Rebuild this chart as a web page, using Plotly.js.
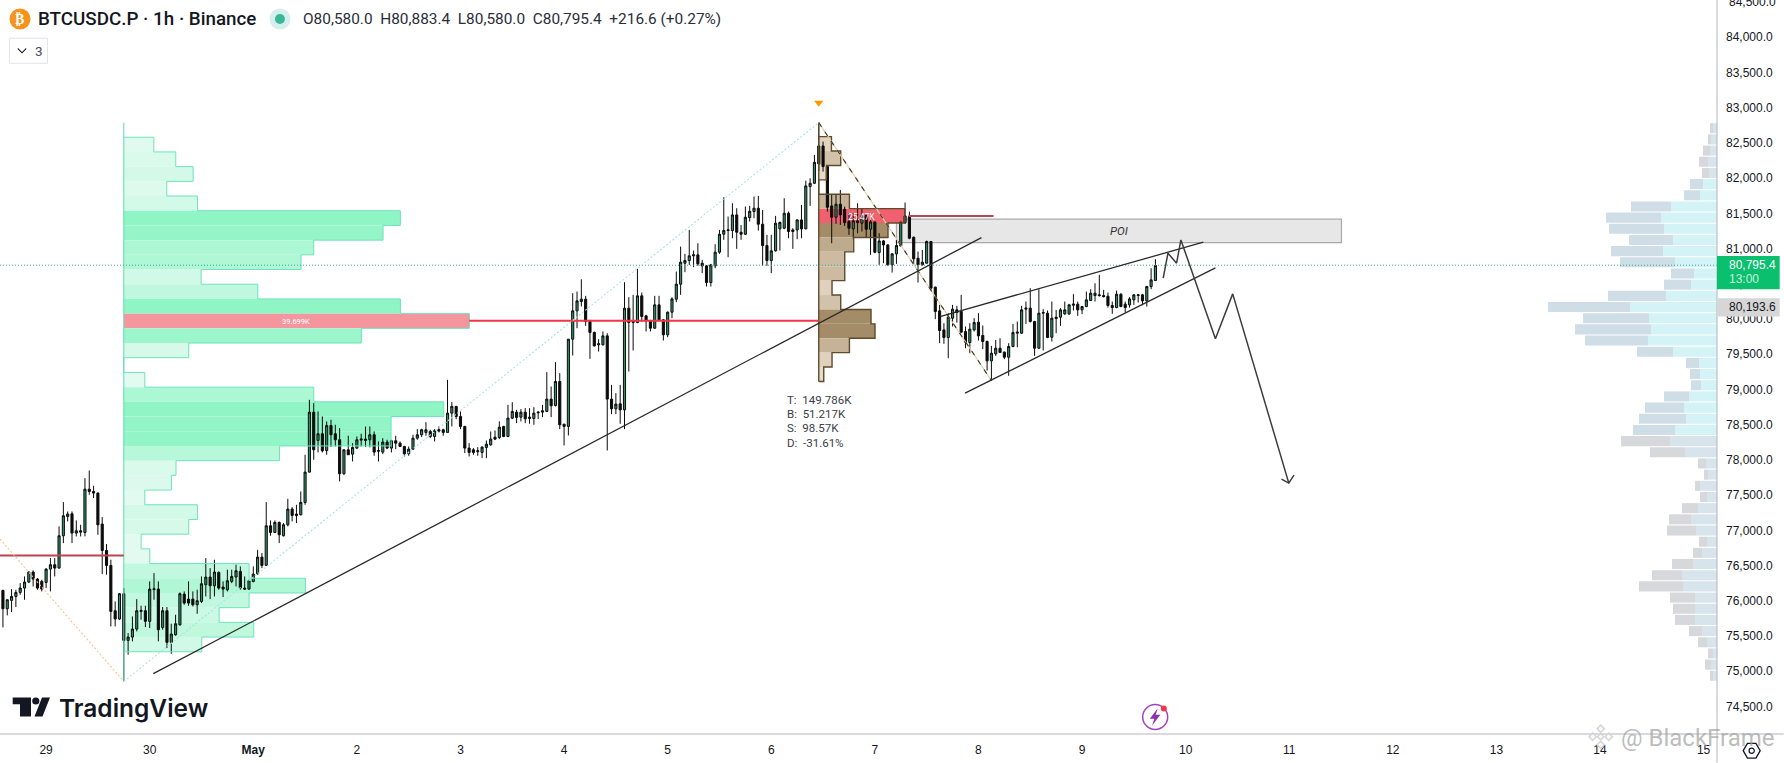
<!DOCTYPE html>
<html><head><meta charset="utf-8">
<script src="https://cdn.plot.ly/plotly-3.0.1.min.js"></script>
<style>html,body{margin:0;padding:0;background:#fff;overflow:hidden}</style></head>
<body><div id="chart" style="width:1784px;height:763px"></div>
<script>
// Hourly candles [open, high, low, close]; hour index 0 = 1 May 00:00
const firstHour = -58;
const candlesApril = [
[76147,76157,75622,75887],[75887,76015,75793,76015],[76006,76166,75840,76062],[76062,76157,75911,76119],[76119,76251,76086,76181],[76181,76346,76015,76266],[76266,76417,76251,76408],[76408,76431,76204,76308],[76308,76322,76157,76181],[76275,76299,76133,76166],
[76261,76464,76181,76450],[76450,76606,76133,76512],[76512,76606,76346,76464],[76464,77056,76464,76923],[76923,77401,76819,77207],[77197,77268,77127,77231],[77235,77268,76819,76961],[76961,77141,76914,76994],[76994,77079,76914,76975],[76970,77741,76914,77585],
[77585,77850,77505,77552],[77552,77633,77458,77529],[77529,77538,76937,77079],[77089,77188,76379,76715],[76715,76805,76370,76502],[76502,76583,75637,75849],[75859,75991,75637,75741],[75741,76110,75731,76100],[76100,76181,74856,75438],[75438,75542,75235,75485],
[75485,75778,75424,75599],[75599,76024,75566,75859],[75849,75930,75731,75864],[75859,75930,75627,75708],[75708,76275,75613,76166],[76171,76393,76015,76160],[76166,76275,75424,75589],[75622,75911,75589,75859],[75859,75911,75329,75410],[75410,75674,75249,75528],
[75518,75802,75504,75674],[75660,76119,75646,76100],[76095,76133,75944,75968],[76024,76275,75930,75968],[76024,76133,75920,75944],[75944,76157,75816,76001],[75991,76346,75968,76242],[76228,76606,76062,76337],[76337,76464,76024,76214],[76214,76583,76062,76408],
[76403,76417,76157,76181],[76195,76275,76053,76166],[76157,76441,76133,76285],[76275,76441,76251,76346],[76337,76512,76204,76427],[76417,76488,76157,76181],[76181,76346,76157,76166],[76166,76299,76157,76285]];
const candlesMayEarly = [
[76275,76488,76261,76379],[76384,76724,76370,76620],[76620,76677,76464,76502],[76502,77401,76502,77065],[77065,77141,76923,76970],[76970,77141,76961,77112],[77112,77127,76819,76937],[76923,77103,76914,77079],[77079,77448,77056,77302],[77302,77330,77127,77212],
[77231,77363,77103,77212],[77221,77552,77212,77396],[77396,78073,77363,77827],[77827,78853,77820,78678],[78678,78806,78002,78144],[78276,78688,78106,78371],[78371,78617,78106,78130],[78134,78546,78073,78489],[78489,78570,78182,78357],[78371,78499,78191,78286],
[78286,78451,77695,77803],[77803,78144,77789,78144],[78144,78343,78073,78073],[78082,78238,77978,78177],[78168,78333,78153,78286],[78281,78371,78191,78295],[78276,78475,78182,78295],[78286,78475,78177,78357],[78357,78404,78059,78111],[78134,78262,77978,78125],
[78111,78309,78082,78253],[78253,78286,78153,78168],[78168,78286,78106,78272],[78272,78343,78153,78238],[78238,78262,78182,78191],[78191,78201,78049,78087],[78087,78191,78059,78153],[78153,78357,78144,78309],[78309,78437,78286,78357],[78357,78442,78324,78428],
[78390,78536,78343,78428],[78404,78428,78309,78333],[78333,78437,78262,78414],[78409,78475,78390,78428],[78428,78442,78343,78390],[78390,79137,78390,78664],[78664,78820,78475,78759],[78759,78768,78579,78617],[78617,78688,78437,78475],[78475,78484,78097,78168],
[78168,78238,78049,78106],[78144,78168,78073,78106],[78116,78182,78059,78130]];
const candlesMayMiddle = [
[78106,78191,78025,78182],[78177,78276,78025,78224],[78215,78404,78200,78295],[78323,78418,78286,78295],[78319,78546,78295,78465],[78475,78484,78323,78333],[78333,78782,78323,78593],[78593,78820,78579,78688],[78678,78711,78522,78603],[78607,78721,78546,78678],
[78678,78735,78522,78584],[78588,78735,78513,78607],[78588,78749,78499,78664],[78669,78688,78579,78678],[78678,78782,78607,78697],[78688,79246,78678,78863],[78863,79042,78607,78768],[78773,79388,78759,79113],[79113,79232,78437,78498],[78508,78508,78205,78475],
[78475,79714,78347,79714],[79714,80367,79482,80116],[80116,80390,79870,80258],[80249,80565,80178,80282],[80282,80329,79903,79965],[79965,79988,79435,79809],[79809,79823,79610,79619],[79634,79714,79539,79648],[79634,79823,79624,79761],[79761,79799,78134,78863],
[78863,79066,78650,78725],[78725,78948,78650,78792],[78796,79066,78513,78711],[78711,80523,78437,80154],[80154,80310,79255,79951],[79951,80343,79553,79965],[79951,80712,79941,80329],[80329,80376,79965,80036],[80045,80059,79823,79974],[79979,79988,79823,79870],
[79870,80329,79861,80201],[80201,80329,79979,79988],[79988,79998,79695,79776],[79776,80107,79742,80097],[80097,80310,80012,80286],[80282,80674,80239,80495],[80495,81029,80343,80807],[80792,80925,80665,80830],[80830,81265,80769,80897],[80897,80972,80736,80911],
[80911,81076,80755,80783],[80792,80840,80651,80755],[80755,80764,80461,80518],[80518,80783,80461,80769],[80755,81062,80722,80949],[80949,81265,80925,81204],[81204,81729,81124,81256],[81256,81455,80878,81265],[81256,81644,81147,81478],[81478,81573,80996,81232],
[81232,81336,81124,81204],[81204,81597,81195,81445],[81440,81606,81384,81530],[81526,81739,81431,81573],[81573,81748,81256,81346],[81346,81549,80755,81043],[81043,81195,80755,80830],[80830,81195,80651,80968],[80968,81464,80958,81360],[81280,81384,80972,81370]];
const candlesMayLate = [
[81289,81715,81275,81502],[81502,81526,81147,81242],[81242,81289,80996,81265],[81265,81417,81133,81407],[81407,81620,81147,81280],[81280,81965,81275,81890],[81880,81998,81606,81927],[81927,82330,81918,82225],[82202,82788,82100,82457],[82457,82519,82093,82164],
[82164,82173,81525,81587],[81606,81762,81076,81445],[81445,81762,81350,81630],[81630,81833,81336,81478],[81559,81596,81322,81369],[81384,81502,81194,81289],[81280,81502,81133,81393],[81369,81644,81218,81393],[81360,81573,81242,81469],[81469,81478,81161,81275],
[81275,81478,80911,81379],[81379,81379,80934,80948],[80944,81218,80769,81109],[81109,81123,80792,81052],[81052,81062,80759,80769],[80769,80934,80660,80925],[80925,81123,80783,81043],[81038,81384,81029,81374],[81369,81653,81350,81464],[81454,81525,81133,81147],
[81161,81171,80769,80854],[80863,80958,80518,80769],[80769,80981,80759,80806],[80792,81114,80792,81100],[81100,81109,80414,80438],[80452,80461,79998,80106],[80116,80201,79657,79837],[79846,79941,79648,79738],[79738,80083,79444,80026],[80012,80201,79894,80140],
[80130,80187,79950,80092],[80106,80343,79799,79813],[79823,79894,79586,79671],[79667,79941,79515,79856],[79846,80012,79823,79950],[79955,80083,79695,79761],[79766,79908,79572,79681],[79681,79695,79269,79406],[79406,79619,79127,79515],[79506,79704,79477,79586],
[79586,79728,79525,79525],[79530,79539,79430,79458],[79458,79657,79194,79610],[79610,79931,79600,79808],[79799,79965,79600,79813],[79799,80187,79790,80130],[80140,80248,79931,80154],[80154,80438,79950,79965],[79965,79974,79477,79586],[79586,80423,79577,80083],
[80083,80140,79553,80092],[80083,80121,79728,79738],[79742,80248,79681,80012],[80007,80130,79799,80026],[80026,80154,79903,80130],[80073,80248,80059,80130],[80073,80215,80059,80201],[80196,80352,80121,80211],[80211,80248,80045,80130],[80130,80187,80069,80177],
[80177,80390,80168,80272],[80263,80423,80258,80367],[80333,80508,80248,80367],[80343,80627,80319,80333],[80333,80414,80305,80319],[80324,80376,80163,80192],[80192,80248,80073,80163],[80163,80404,80154,80352],[80352,80367,80168,80177],[80211,80248,80092,80163],
[80201,80310,80163,80286],[80272,80357,80201,80343],[80333,80357,80234,80343],[80343,80357,80196,80258],[80258,80471,80177,80461],[80461,80721,80423,80556],[80546,80849,80541,80759]];

// Anchored volume profile 1 (green), thousands per bin, top to bottom
const vp1Volumes = [3.45,5.97,7.96,4.94,8.46,31.77,29.78,21.82,20.36,8.88,15.39,31.77,39.699,27.29,7.46,0,2.41,21.82,36.75,30.70,30.70,17.88,6.0,5.47,2.41,8.46,7.46,1.99,2.99,14.39,20.86,14.39,10.95,14.93,8.96];
const vp1Top = 82581, vp1Step = 208.7, vp1Start = -30, vp1HoursPerK = 2.017, vp1Poc = 12;
const vp1High = 82788, vp1Low = 74856;
// Anchored volume profile 2 (brown)
const vp2Volumes = [3.76,6.51,2.28,0,9.09,25.47,20.52,10.36,7.7,7.7,3.94,6.51,15.49,16.67,9.09,3.94,1.48];
const vp2Top = 82589, vp2Step = 204.4, vp2Start = 131, vp2HoursPerK = 0.782, vp2Poc = 5;
// Visible range profile on the right edge (buy / sell units per bin, top to bottom)
const vrBuy  = [4,6,7,9,8,14,17,46,56,53,44,54,42,23,26,51,87,68,66,69,44,18,17,16,28,33,31,42,47,32,11,9,17,10,19,26,21,10,15,24,35,34,22,22,22,15,10,4,6,4];
const vrSell = [3,3,7,9,7,13,16,40,55,55,44,52,55,23,27,58,82,66,76,63,36,13,10,10,25,39,47,42,49,35,8,4,5,7,16,22,29,8,9,21,30,44,25,22,20,13,9,5,6,3];
const vrTop = 82788, vrStep = 158.64, vrRight = 339.1, vrHoursPerUnit = 0.2316, vrValueFrom = 5, vrValueTo = 27;

// Drawings, as [hour, price]
const priceLine = 80764;
const oldPocLevel = 76644, oldPocEnd = -30;
const poc1Level = 79974, poc1From = 50, poc1To = 131;
const poc2Level = 81464, poc2From = 151.8, poc2To = 171.5;
const trendLong = [[-23.16,74965],[168.7,81156]];
const wedgeUpper = [[159.1,80035],[220.1,81091]];
const wedgeLower = [[164.9,78948],[222.9,80726]];
const projection = [[210.8,80580],[211.9,80935],[213.9,80793],[214.9,81123],[222.9,79719],[226.9,80357],[239.9,77671]];
const arrowHead = [[238.2,77728],[239.9,77671],[241.1,77785]];
const zigOrange = [[-58.68,76876],[-30,74856]];
const zigTeal = [[-30,74856],[131,82788]];
const zigTan = [[131,82788],[171,79127]];
const poi = {x0:149, x1:252.1, y0:81085, y1:81417};
const peakMark = [131, 83072];

const dayTicks = [-48,-24,0,24,48,72,96,120,144,168,192,216,240,264,288,312,336];
const dayLabels = ['29','30','<b>May</b>','2','3','4','5','6','7','8','9','10','11','12','13','14','15'];
const headerTitle = 'BTCUSDC.P · 1h · Binance';
const headerOhlc = 'O80,580.0  H80,883.4  L80,580.0  C80,795.4  +216.6 (+0.27%)';
const stats = ['T:  149.786K','B:  51.217K','S:  98.57K','D:  -31.61%'];

const W = 1717.3, H = 734.3;
const fx = x => x / W, fy = y => 1 - y / H;
const candles = candlesApril.concat(candlesMayEarly, candlesMayMiddle, candlesMayLate);
const hours = candles.map((_, i) => firstHour + i);

function hex(a){return [parseInt(a.slice(1,3),16),parseInt(a.slice(3,5),16),parseInt(a.slice(5,7),16)];}
function lerp(a,b,t){t=Math.max(0,Math.min(1,t));const A=hex(a),B=hex(b);return 'rgb('+A.map((v,i)=>Math.round(v+(B[i]-v)*t)).join(',')+')';}

function profile(vols, top, step, start, perK, pocIdx, lowC, highC, tLo, tHi, pocC){
  const max = Math.max(...vols);
  return {type:'bar', orientation:'h', base:vols.map(()=>start), x:vols.map(v=>v*perK),
    y:vols.map((_,i)=>top-step*(i+.5)), width:step,
    marker:{color:vols.map((v,i)=>i===pocIdx?pocC:lerp(lowC,highC,(v/max-tLo)/(tHi-tLo))),line:{width:0}},
    hoverinfo:'skip', showlegend:false};
}
function outline(vols, top, step, start, perK, color, w){
  const xs=[start], ys=[top];
  vols.forEach((v,i)=>{xs.push(start+v*perK,start+v*perK);ys.push(top-step*i,top-step*(i+1));});
  xs.push(start); ys.push(top-step*vols.length);
  return {type:'scatter',mode:'lines',x:xs,y:ys,line:{color:color,width:w},hoverinfo:'skip',showlegend:false};
}
function line(pts,color,width,dash){
  return {type:'scatter',mode:'lines',x:pts.map(p=>p[0]),y:pts.map(p=>p[1]),
    line:{color:color,width:width,dash:dash||'solid'},hoverinfo:'skip',showlegend:false};
}
function vrBars(vals, right, colorFn){
  return {type:'bar',orientation:'h',base:right,x:vals.map(v=>v*vrHoursPerUnit),
    y:vals.map((_,i)=>vrTop-vrStep*(i+.5)),width:vrStep*0.9,
    marker:{color:vals.map((_,i)=>colorFn(i)),line:{width:0}},hoverinfo:'skip',showlegend:false};
}
const inVA = i => i>=vrValueFrom && i<=vrValueTo;
const vrBuyBase = vrBuy.map(v=>vrRight-v*vrHoursPerUnit);
const vrSellBase = vrBuy.map((v,i)=>vrRight-(v+vrSell[i])*vrHoursPerUnit);

const traces = [
  vrBars(vrSell, vrSellBase, i=>inVA(i)?'#cfdde6':'#d6d8db'),
  vrBars(vrBuy, vrBuyBase, i=>inVA(i)?'#d3f3f6':'#d7e4ec'),
  profile(vp1Volumes,vp1Top,vp1Step,vp1Start,vp1HoursPerK,vp1Poc,'#e2faf0','#8ff5c5',.08,.8,'#f5969e'),
  profile(vp2Volumes,vp2Top,vp2Step,vp2Start,vp2HoursPerK,vp2Poc,'#e6dac8','#a58c68',.1,.6,'#f1606e'),
  {type:'candlestick',x:hours,open:candles.map(c=>c[0]),high:candles.map(c=>c[1]),low:candles.map(c=>c[2]),close:candles.map(c=>c[3]),
   increasing:{line:{color:'#0b0b0b',width:1},fillcolor:'#2f9368'},
   decreasing:{line:{color:'#0b0b0b',width:1},fillcolor:'#0b0b0b'},
   whiskerwidth:0,hoverinfo:'skip',showlegend:false},
  outline(vp1Volumes,vp1Top,vp1Step,vp1Start,vp1HoursPerK,'#6ce4ba',1),
  line([[vp1Start,vp1High],[vp1Start,vp1Low]],'#5fdcb0',1),
  outline(vp2Volumes,vp2Top,vp2Step,vp2Start,vp2HoursPerK,'#5f4a2c',1.4),
  line([[vp2Start,vp1High],[vp2Start,vp2Top-vp2Step*vp2Volumes.length]],'#5f4a2c',1.4),
  line([[-58.68,priceLine],[339.1,priceLine]],'#33ad96',1,'1px,2px'),
  line([[-58.68,oldPocLevel],[oldPocEnd,oldPocLevel]],'#b9454f',2),
  line([[poc1From,poc1Level],[poc1To,poc1Level]],'#f23645',2),
  line([[poc2From,poc2Level],[poc2To,poc2Level]],'#b9454f',2),
  line(zigOrange,'#f6c48e',1.1,'2px,2px'),
  line(zigTeal,'#a5e6df',1.1,'2px,2px'),
  line(zigTan,'#e3cfa8',1.2),
  line(zigTan,'#3a3226',1.1,'5px,6px'),
  line(trendLong,'#2a2a2a',1.3),
  line(wedgeUpper,'#2a2a2a',1.3),
  line(wedgeLower,'#2a2a2a',1.3),
  line(projection,'#3c3c3c',1.5),
  line(arrowHead,'#3c3c3c',1.5),
  {type:'scatter',mode:'markers',x:[peakMark[0]],y:[peakMark[1]],marker:{symbol:'triangle-down',size:8,color:'#ff9800'},hoverinfo:'skip',showlegend:false}
];

function ann(x,y,text,size,color,anchor,opts){
  return Object.assign({xref:'paper',yref:'paper',x:fx(x),y:fy(y),text:text,showarrow:false,
    font:{family:'Roboto, sans-serif',size:size,color:color},xanchor:anchor||'left',yanchor:'middle',borderpad:0},opts||{});
}
function poly(pts,fill,lineC,lw){
  const d='M'+pts.map(p=>fx(p[0])+','+fy(p[1])).join('L')+'Z';
  return {type:'path',xref:'paper',yref:'paper',path:d,fillcolor:fill,line:{color:lineC||fill,width:lw||0},layer:'above'};
}
function circ(cx,cy,r,fill,lineC,lw){
  return {type:'circle',xref:'paper',yref:'paper',x0:fx(cx-r),x1:fx(cx+r),y0:fy(cy-r),y1:fy(cy+r),fillcolor:fill,line:{color:lineC||fill,width:lw||0},layer:'above'};
}
function rect(x0,y0,x1,y1,fill,lineC,lw){
  return {type:'rect',xref:'paper',yref:'paper',x0:fx(x0),x1:fx(x1),y0:fy(y0),y1:fy(y1),fillcolor:fill,line:{color:lineC||fill,width:lw||0},layer:'above'};
}
function diamond(cx,cy,r,c){return poly([[cx,cy-r],[cx+r,cy],[cx,cy+r],[cx-r,cy]],'rgba(0,0,0,0)',c,1.6);}
function hexagon(cx,cy,r,c){return poly([[cx-r,cy],[cx-r/2,cy-r*.87],[cx+r/2,cy-r*.87],[cx+r,cy],[cx+r/2,cy+r*.87],[cx-r/2,cy+r*.87]],'rgba(0,0,0,0)',c,1.3);}

const shapes = [
  {type:'rect',xref:'x',yref:'y',x0:poi.x0,x1:poi.x1,y0:poi.y0,y1:poi.y1,fillcolor:'#e7e7e7',line:{color:'#a9a9a9',width:1.2},layer:'below'},
  {type:'line',xref:'paper',yref:'paper',x0:0,x1:1784/W,y0:0,y1:0,line:{color:'#b2b5be',width:1},layer:'above'},
  {type:'line',xref:'paper',yref:'paper',x0:1,x1:1,y0:1,y1:fy(763),line:{color:'#b2b5be',width:1},layer:'above'},
  // price labels
  rect(1717.3,256,1780,289.3,'#0abf6d'),
  rect(1717.3,298.3,1780,316.7,'#d6d6d6'),
  // header
  circ(20,19,10.5,'#f7931a'),
  circ(280,19,10.5,'#d5efec'),
  circ(280,19,5,'#3ab795'),
  {type:'rect',xref:'paper',yref:'paper',x0:fx(9.6),x1:fx(47.5),y0:fy(38.3),y1:fy(63.3),fillcolor:'#ffffff',line:{color:'#e0e3eb',width:1},layer:'above'},
  poly([[18,48],[22,52],[26,48],[26.5,49],[22,53.5],[17.5,49]],'#131722'),
  // logo
  poly([[12.7,697.7],[31,697.7],[31,716.7],[20,716.7],[20,704.5],[12.7,704.5]],'#131722'),
  circ(35.8,701.3,3.6,'#131722'),
  poly([[50,697.7],[42,697.7],[34.5,716.7],[42.5,716.7]],'#131722'),
  // flash icon
  circ(1155.4,717.3,12.5,'rgba(0,0,0,0)','#a542c4',1.5),
  poly([[1158,708.5],[1150,719],[1154.6,719],[1152.2,726],[1160.5,715],[1155.8,715]],'#8e2fb0'),
  circ(1164,708.7,3,'#f23645'),
  // settings hexagon
  hexagon(1752,751,8.5,'#131722'),
  circ(1752,751,2.6,'rgba(0,0,0,0)','#131722',1.2),
  // watermark diamonds
  diamond(1601,729,3.6,'#d6d6d6'),diamond(1593,737,3.6,'#d6d6d6'),diamond(1609,737,3.6,'#d6d6d6'),diamond(1601,745,3.6,'#d6d6d6'),diamond(1601,737,3.2,'#d6d6d6')
];

const annotations = [
  ann(20,19,'₿',14,'#ffffff','center',{font:{family:'DejaVu Sans',size:14,color:'#fff',weight:700}}),
  ann(37,19,headerTitle,18.8,'#131722','left',{font:{family:'Roboto',size:18.8,color:'#131722',weight:500}}),
  ann(301.6,19,headerOhlc,15.4,'#2a2e39'),
  ann(34,51,'3',13.5,'#4a4e59'),
  ann(58,708,'TradingView',24.5,'#131722','left',{font:{family:'Inter, Roboto',size:24.5,color:'#131722',weight:600}}),
  ann(296,321.3,'39.699K',7.5,'#ffffff','center'),
  ann(861.7,216.7,'25.47K',8.5,'#ffffff','center'),
  ann(1119,231,'POI',11.5,'#333333','center',{font:{family:'Roboto',size:11.5,color:'#333',style:'italic'}}),
  ann(1728,2,'84,500.0',12,'#131722','left',{font:{family:'Liberation Sans',size:12,color:'#131722'}}),
  ann(1728,265,'80,795.4',12,'#ffffff','left',{font:{family:'Liberation Sans',size:12,color:'#fff'}}),
  ann(1728.5,279.5,'13:00',12,'#c9f3dd','left',{font:{family:'Liberation Sans',size:12,color:'#c9f3dd'}}),
  ann(1728,307,'80,193.6',12,'#131722','left',{font:{family:'Liberation Sans',size:12,color:'#131722'}}),
  ann(1620,738,'@ BlackFrame',24,'rgba(160,160,160,0.7)','left'),
].concat(stats.map((s,i)=>ann(786,400+i*14.3,s,11.5,'#3a3e48')));

const layout = {
  width:1784,height:763,margin:{l:0,r:66.7,t:0,b:28.7,pad:0},
  paper_bgcolor:'#ffffff',plot_bgcolor:'#ffffff',barmode:'overlay',showlegend:false,
  font:{family:'Liberation Sans, sans-serif',size:12,color:'#131722'},
  xaxis:{type:'linear',range:[-58.68,339.1],tickmode:'array',tickvals:dayTicks,ticktext:dayLabels,showgrid:false,zeroline:false,showline:false,ticks:'',
         rangeslider:{visible:false},tickfont:{size:12,color:'#131722'},ticklabelstandoff:7,fixedrange:true},
  yaxis:{side:'right',range:[74109,84529],dtick:500,tick0:0,tickformat:',.1f',separatethousands:true,showgrid:false,zeroline:false,showline:false,ticks:'',
         tickfont:{size:12,color:'#131722'},ticklabelstandoff:8,fixedrange:true},
  shapes:shapes,annotations:annotations
};
Plotly.newPlot('chart',traces,layout,{displayModeBar:false,staticPlot:true});
</script></body></html>
